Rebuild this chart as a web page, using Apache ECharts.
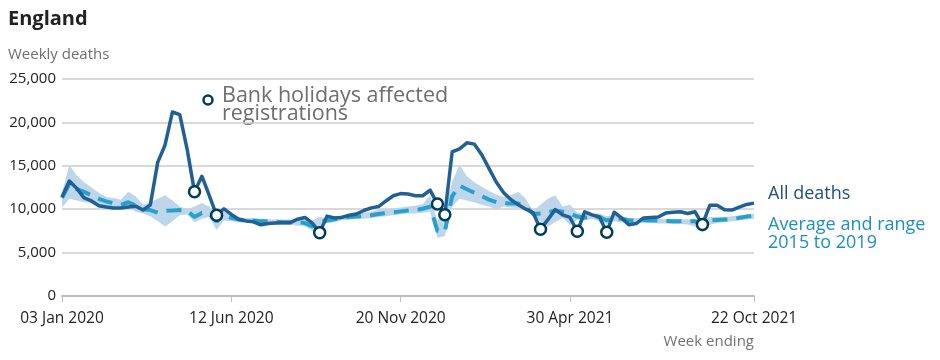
<!DOCTYPE html>
<html><head><meta charset="utf-8">
<script src="https://cdn.jsdelivr.net/npm/echarts@6/dist/echarts.min.js"></script>
<style>html,body{margin:0;padding:0;background:#fff}#c{width:940px;height:360px}</style>
</head><body><div id="c"></div>
<script>
// Week-ending dates: weekly from 03 Jan 2020 to 22 Oct 2021
const firstWeek = [2020, 0, 3];
const weekCount = 95;
const tickIdx = [0, 23, 46, 69, 94];
const yTicks = [0, 5000, 10000, 15000, 20000, 25000];

const allDeaths = [
 11400,13250,12400,11300,10950,10400,10250,10150,10150,10250,
 10350,9900,10500,15400,17400,21200,20900,16900,12000,13800,
 11600,9300,10050,9400,8850,8650,8550,8200,8350,8400,
 8450,8450,8850,9050,8400,7300,9200,9000,9050,9300,
 9450,9850,10150,10300,10950,11550,11800,11750,11550,11550,
 12200,10600,9350,16600,16950,17650,17500,16300,14700,13100,
 11900,11100,10500,10000,9600,7700,8800,9950,9350,9050,
 7450,9700,9350,9100,7350,9650,9000,8200,8350,9000,
 9050,9100,9550,9650,9700,9500,9700,8250,10450,10450,
 9950,9900,10250,10550,10700
];
const average = [
 11300,12900,12300,12000,11600,11200,10900,10700,10500,10800,
 10400,10000,9900,9600,9800,9850,9900,9850,9100,9550,
 9500,8600,9300,9000,8800,8700,8700,8600,8600,8550,
 8500,8500,8500,8400,8000,8500,8700,8850,9000,9100,
 9150,9200,9300,9450,9550,9650,9750,9850,9900,10050,
 10300,7500,7400,11500,12700,12300,11900,11500,11100,10800,
 10700,10650,10650,10300,9450,9500,9650,9850,9700,9500,
 9150,9000,9200,9100,8700,9000,8900,8700,8700,8750,
 8700,8700,8650,8600,8600,8600,8600,8200,8700,8750,
 8800,8850,9000,9150,9250
];
const rangeLow = [
 10200,11200,11000,10800,10700,10500,10350,10200,10200,10300,
 9700,9500,9200,8600,8000,8600,9300,9400,8500,8900,
 9100,7600,8700,8600,8500,8400,8400,8350,8300,8250,
 8200,8200,8100,8100,7500,8000,8400,8500,8700,8800,
 8900,8900,9000,9100,9200,9300,9400,9500,9500,9600,
 9700,6700,6900,10300,11200,11000,10800,10500,10300,10000,
 10300,10200,10100,9900,9300,8600,8000,8500,9000,8200,
 8800,8700,8900,8600,8300,8600,8500,8400,8400,8400,
 8400,8350,8350,8300,8300,8250,8000,7300,8200,8400,
 8500,8600,8700,8800,8900
];
const rangeHigh = [
 11900,15100,13900,13100,12500,11900,11400,11300,11100,12000,
 11500,10500,10800,11200,11600,11000,10300,10000,10300,10700,
 10300,9300,9700,9300,9100,9000,8950,8900,8850,8800,
 8800,8800,8750,8800,8700,9100,9000,9200,9300,9400,
 9500,9600,9700,9900,10000,10100,10200,10300,10400,10600,
 11600,8600,9800,13200,15100,13800,13100,12600,12100,11700,
 11400,11600,12000,11200,9800,10500,11200,11600,10300,10500,
 9600,9500,9500,9500,9200,9300,9200,9000,9000,9000,
 8950,8900,8900,8900,8850,8850,8900,8700,9100,9100,
 9100,9200,9300,9400,9500
];
const bankHolidayIdx = [18, 21, 35, 51, 52, 65, 70, 74, 87];

const MONTHS = ['Jan','Feb','Mar','Apr','May','Jun','Jul','Aug','Sep','Oct','Nov','Dec'];
const categories = [];
for (let i = 0; i < weekCount; i++) {
  const d = new Date(Date.UTC(firstWeek[0], firstWeek[1], firstWeek[2] + 7 * i));
  categories.push(String(d.getUTCDate()).padStart(2, '0') + ' ' + MONTHS[d.getUTCMonth()] + ' ' + d.getUTCFullYear());
}
const rangeSpan = rangeHigh.map((v, i) => v - rangeLow[i]);
const bankPoints = bankHolidayIdx.map(i => [i, allDeaths[i]]);

const FONT = '"Open Sans", "Noto Sans", sans-serif';
const chart = echarts.init(document.getElementById('c'), null, {renderer: 'canvas'});
chart.setOption({
  animation: false,
  textStyle: {fontFamily: FONT},
  grid: {left: 62, right: 186, top: 79, bottom: 64, containLabel: false},
  xAxis: {
    type: 'category', data: categories, boundaryGap: false,
    axisLine: {lineStyle: {color: '#bdbdbd', width: 2}},
    axisTick: {show: true, length: 6, lineStyle: {color: '#bdbdbd', width: 1},
      interval: (i) => tickIdx.includes(i)},
    axisLabel: {interval: (i) => tickIdx.includes(i), color: '#222', fontSize: 15.5,
      fontFamily: FONT, margin: 15, showMaxLabel: true, showMinLabel: true},
    splitLine: {show: false}
  },
  yAxis: {
    type: 'value', min: 0, max: 25000, interval: 5000,
    axisLine: {show: false},
    axisTick: {show: false},
    axisLabel: {color: '#222', fontSize: 15, fontFamily: FONT, margin: 6,
      formatter: v => v.toLocaleString('en-GB')},
    splitLine: {lineStyle: {color: '#cccccc', width: 1.5}}
  },
  series: [
    {type: 'line', data: rangeLow, stack: 'range', symbol: 'none', silent: true,
      lineStyle: {width: 0, opacity: 0}, z: 1},
    {type: 'line', data: rangeSpan, stack: 'range', symbol: 'none', silent: true,
      lineStyle: {width: 0, opacity: 0}, areaStyle: {color: '#bed6e9', opacity: 1}, z: 1},
    {type: 'line', data: average, symbol: 'none', silent: true, z: 2,
      lineStyle: {color: '#27a0cc', width: 4, type: [15, 9], cap: 'butt'}},
    {type: 'line', data: allDeaths, symbol: 'none', silent: true, z: 3,
      lineStyle: {color: '#206095', width: 3.5, join: 'round'}},
    {type: 'scatter', data: bankPoints, symbol: 'circle', symbolSize: 11, z: 4, silent: true,
      itemStyle: {color: '#ffffff', opacity: 1, borderColor: '#003c57', borderWidth: 2.5}}
  ],
  graphic: [
    {type: 'text', left: 8, top: 9, style: {text: 'England', font: 'bold 20px ' + FONT, fill: '#222'}},
    {type: 'text', left: 8, top: 47, style: {text: 'Weekly deaths', font: '15px ' + FONT, fill: '#707070'}},
    {type: 'text', right: 186, top: 334, style: {text: 'Week ending', font: '15px ' + FONT, fill: '#707070'}},
    {type: 'circle', shape: {cx: 208, cy: 100, r: 4.5},
      style: {fill: '#ffffff', stroke: '#003c57', lineWidth: 2.5}},
    {type: 'text', left: 222, top: 85, style: {text: 'Bank holidays affected\nregistrations',
      font: '21.5px ' + FONT, lineHeight: 18, fill: '#6e6e6e'}},
    {type: 'text', left: 768, top: 185, style: {text: 'All deaths', font: '18px ' + FONT, fill: '#1f4f7e'}},
    {type: 'text', left: 768, top: 216, style: {text: 'Average and range\n2015 to 2019',
      font: '18px ' + FONT, lineHeight: 18, fill: '#1b8fc0'}}
  ]
});
</script></body></html>
